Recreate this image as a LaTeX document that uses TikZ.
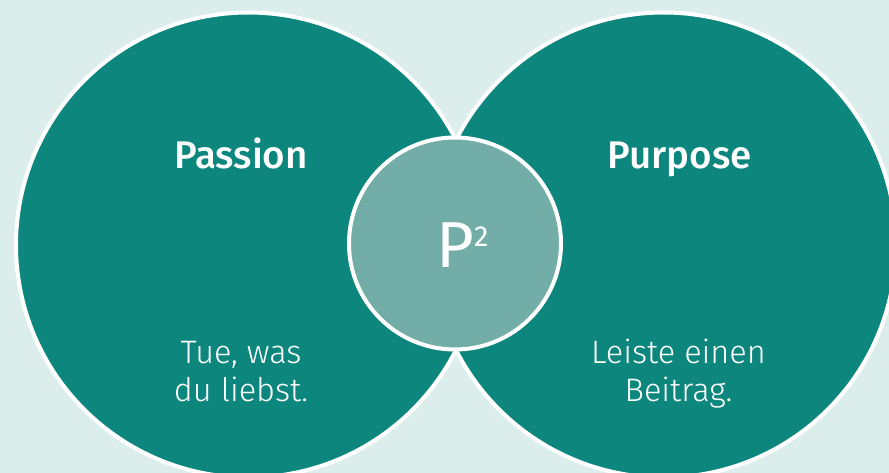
\documentclass[tikz,border=0pt]{standalone}
\usepackage{fontspec}
\setmainfont{Fira Sans}[Numbers=Lining]
\newfontfamily\lightfont{Fira Sans Light}
\newfontfamily\medfont{Fira Sans Medium}
\definecolor{bgmint}{RGB}{220,238,236}
\definecolor{tealdark}{RGB}{13,134,126}
\definecolor{tealmid}{RGB}{114,173,168}
\tikzset{
  bigcircle/.style={circle, draw=white, line width=4pt, fill=tealdark, inner sep=0pt, minimum size=465pt},
  midcircle/.style={circle, draw=white, line width=4pt, fill=tealmid, inner sep=0pt, minimum size=212pt},
  heading/.style={text=white, font=\medfont\fontsize{38.5}{38.5}\selectfont, anchor=base, inner sep=0pt},
  bodytext/.style={text=white, font=\lightfont\fontsize{32.5}{38.4}\selectfont, align=center, anchor=base, inner sep=0pt},
}
\begin{document}
\begin{tikzpicture}[x=1pt,y=-1pt]
\useasboundingbox (0,0) rectangle (889,473);
\fill[bgmint] (0,0) rectangle (889,473);
\begin{scope}
\clip (0,0) rectangle (889,473);
\node[bigcircle] (passioncircle) at (248.5,245) {};
\node[bigcircle] (purposecircle) at (663.5,245) {};
\node[midcircle] (pcircle) at (455,243.5) {};
\end{scope}
\node[heading] (passion) at (241,169) {Passion};
\node[heading] (purpose) at (679.5,169) {Purpose};
\node[bodytext] (passiontext) at (241,401.7) {Tue, was\\du liebst.};
\node[bodytext] (purposetext) at (678.5,401.7) {Leiste einen\\Beitrag.};
\node[text=white, font=\fontsize{65}{65}\selectfont, anchor=base, inner sep=0pt] (pletter) at (455,267.7) {P};
\node[text=white, font=\fontsize{29}{29}\selectfont, anchor=base west, inner sep=0pt] (psquare) at (474,247) {2};
\end{tikzpicture}
\end{document}
